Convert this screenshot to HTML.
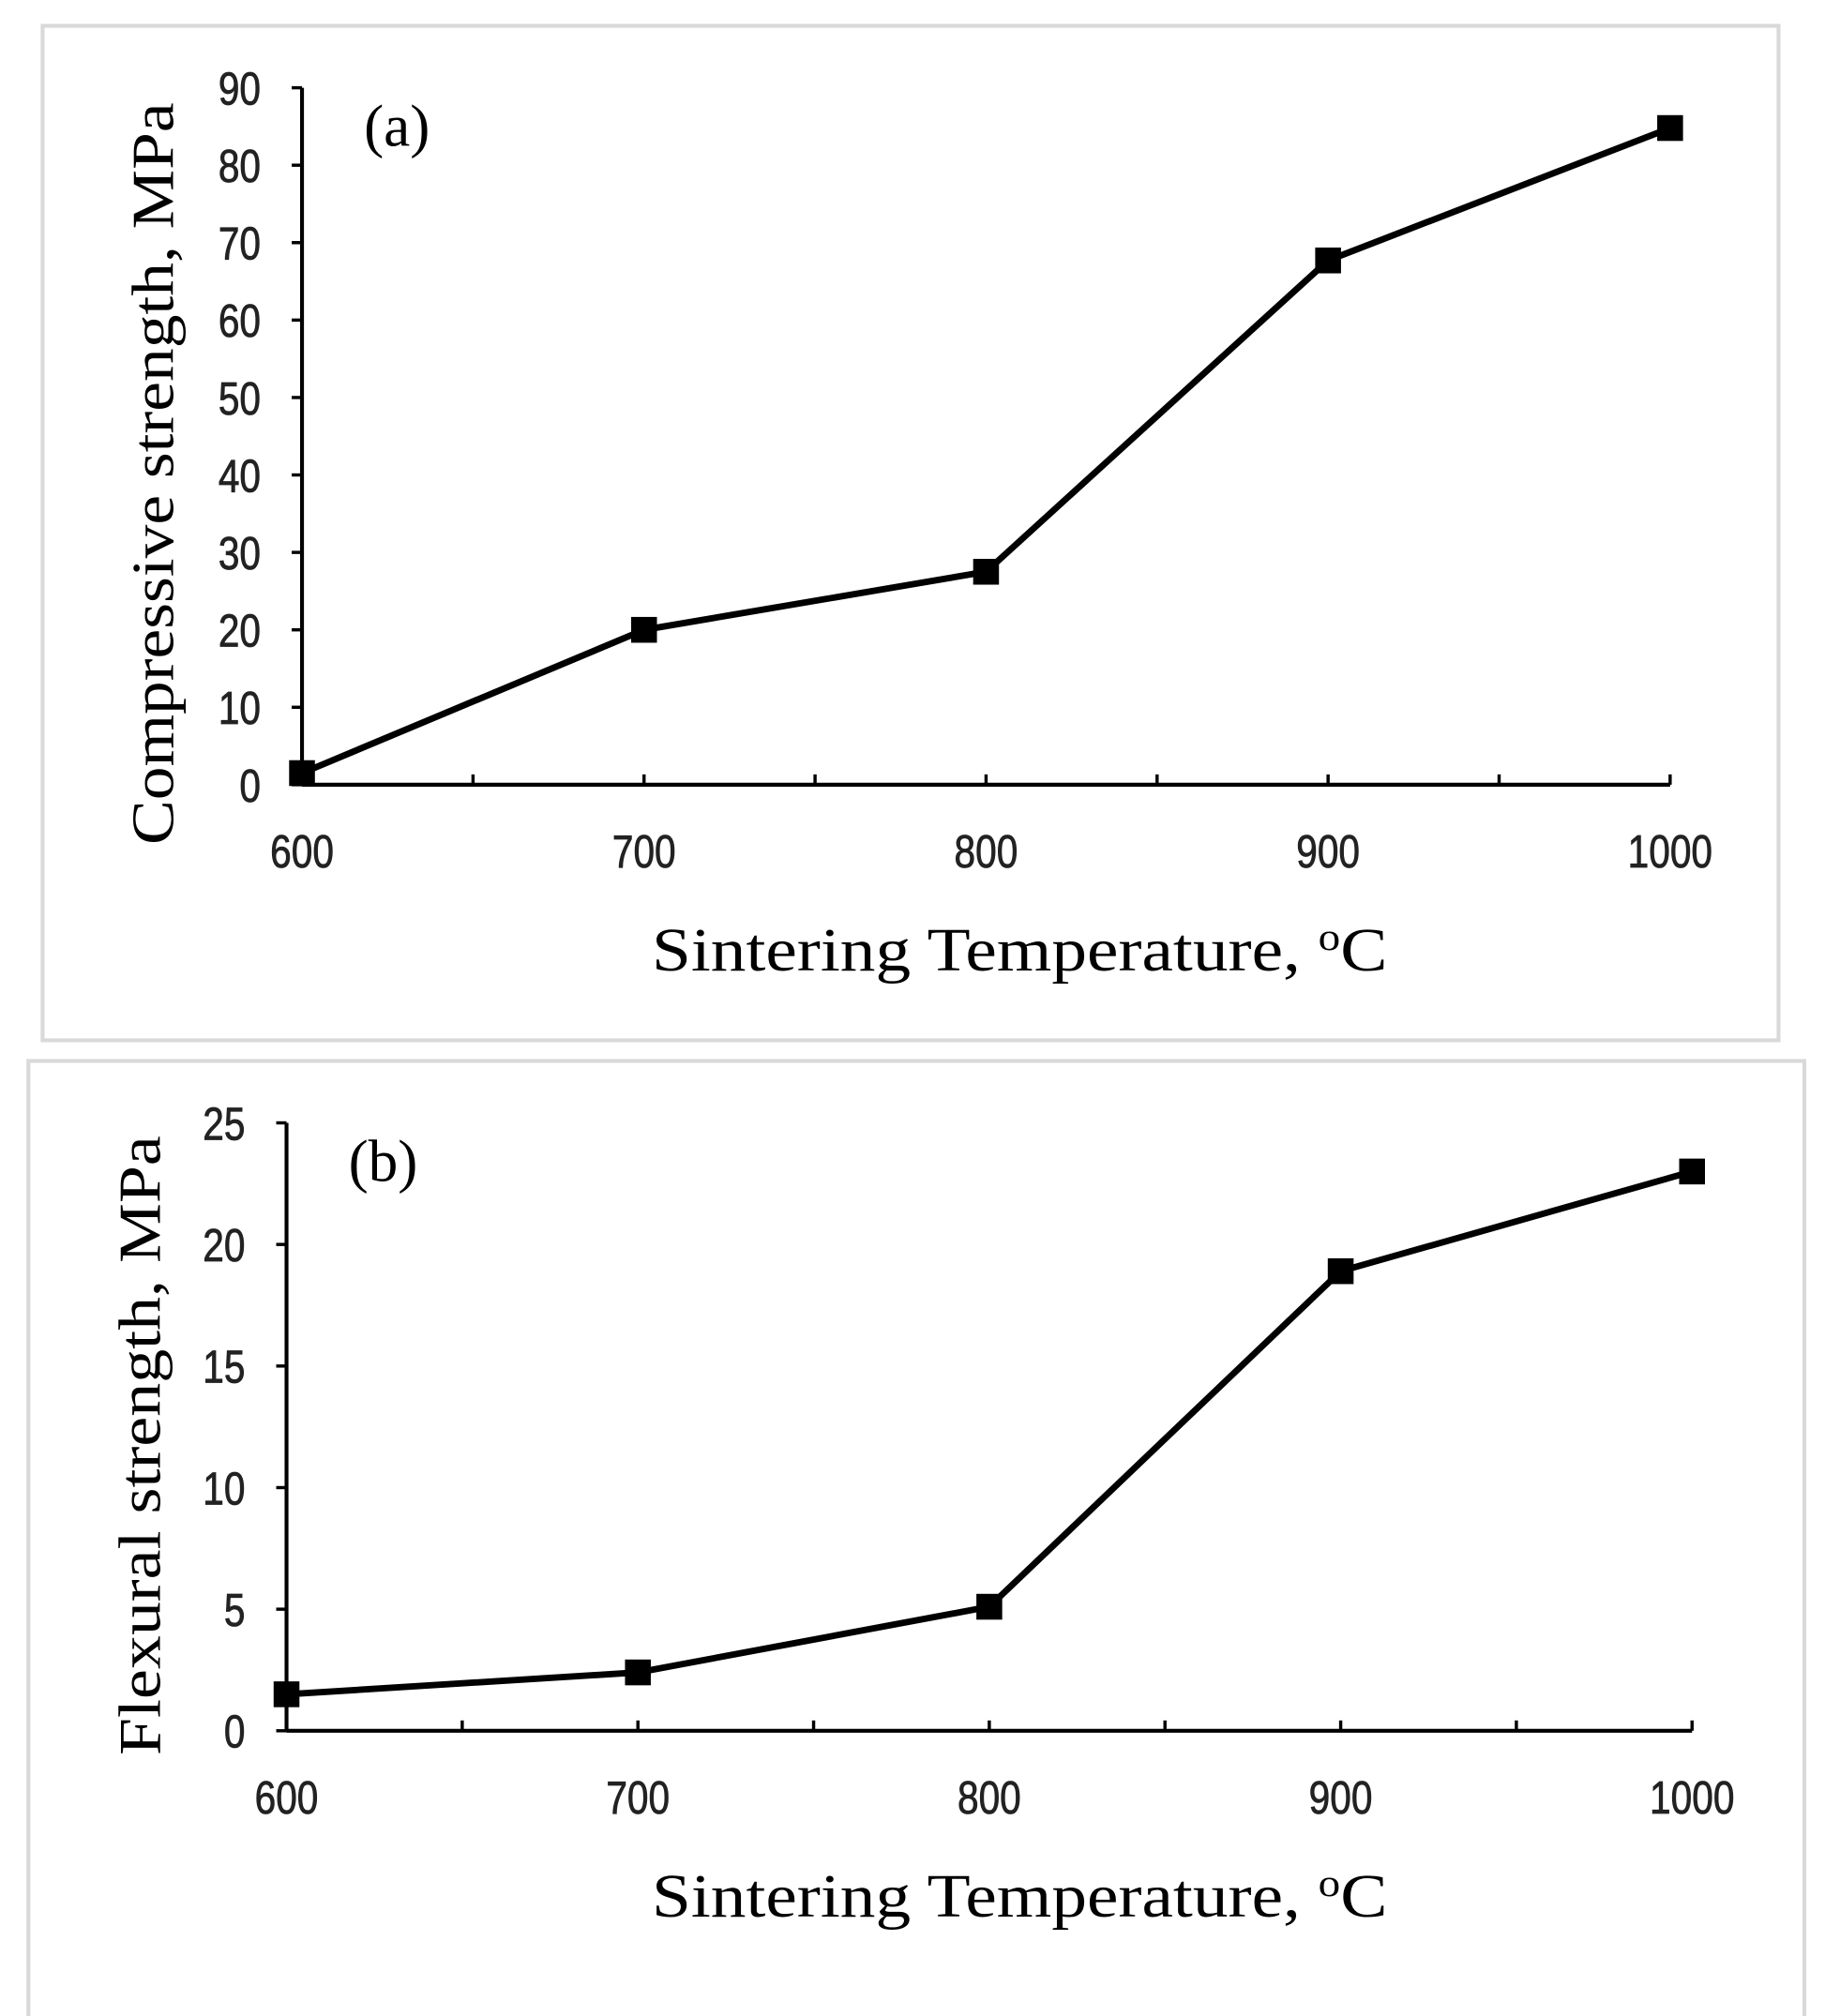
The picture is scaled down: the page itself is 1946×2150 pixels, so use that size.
<!DOCTYPE html>
<html><head><meta charset="utf-8"><style>
html,body{margin:0;padding:0;background:#fff;}
svg{display:block;}
</style></head><body>
<svg id="fig" width="1946" height="2150" viewBox="0 0 1414 1562" preserveAspectRatio="none" xmlns="http://www.w3.org/2000/svg">
<rect x="33" y="20" width="1345" height="786" fill="#fff" stroke="#d9d9d9" stroke-width="3"/>
<rect x="22" y="822" width="1376" height="745" fill="#fff" stroke="#d9d9d9" stroke-width="3"/>
<g id="ga"></g>
<g id="gb"></g>
</svg>
<script>
const categories = [600, 700, 800, 900, 1000];
const compressive = [1.5, 20, 27.5, 67.7, 84.8];
const flexural = [1.5, 2.4, 5.1, 18.9, 23.0];
const yTicksA = [0, 10, 20, 30, 40, 50, 60, 70, 80, 90];
const yTicksB = [0, 5, 10, 15, 20, 25];
const xTickLabels = ["600", "700", "800", "900", "1000"];

const NS = "http://www.w3.org/2000/svg";
function mk(parent, tag, attrs, text) {
  const e = document.createElementNS(NS, tag);
  for (const k in attrs) e.setAttribute(k, attrs[k]);
  if (text !== undefined) e.textContent = text;
  parent.appendChild(e);
  return e;
}
function drawPanel(g, cfg) {
  const xS = v => cfg.x0 + (v - 600) / 400 * (cfg.x1 - cfg.x0);
  const yS = v => cfg.y0 - v / cfg.ymax * (cfg.y0 - cfg.y1);
  const yAx = mk(g, "line", {x1: cfg.x0, y1: yS(cfg.ymax), x2: cfg.x0, y2: cfg.y0, stroke: "#000", "stroke-width": 3});
  
  
  const xAx = mk(g, "line", {x1: cfg.x0, y1: cfg.y0, x2: xS(1000), y2: cfg.y0, stroke: "#000", "stroke-width": 3});
  
  
  cfg.yTicks.forEach(t => {
    const y = yS(t);
    const tk = mk(g, "line", {x1: cfg.x0 - 8, y1: y, x2: cfg.x0, y2: y, stroke: "#000", "stroke-width": 2.5});
    
    
    const lb = mk(g, "text", {x: cfg.x0 - 32, y: y + 13, "text-anchor": "end", "font-family": "Liberation Sans, sans-serif", "font-size": 36, fill: "#222", stroke: "#222", "stroke-width": 0.6, transform: `translate(${cfg.x0 - 32},0) scale(0.82,1) translate(${-(cfg.x0 - 32)},0)`}, String(t));
    
    
  });
  for (let v = 650; v <= 1000; v += 50) {
    const x = xS(v);
    const tk = mk(g, "line", {x1: x, y1: cfg.y0 - 8, x2: x, y2: cfg.y0, stroke: "#000", "stroke-width": 2.5});
    
    
  }
  categories.forEach((c, i) => {
    const x = xS(c);
    const lb = mk(g, "text", {x: x, y: cfg.xl, "text-anchor": "middle", "font-family": "Liberation Sans, sans-serif", "font-size": 36, fill: "#222", stroke: "#222", "stroke-width": 0.6, transform: `translate(${x},0) scale(0.82,1) translate(${-x},0)`}, xTickLabels[i]);
    
    
  });
  const pts = categories.map((c, i) => xS(c) + "," + yS(cfg.vals[i])).join(" ");
  const pl = mk(g, "polyline", {points: pts, fill: "none", stroke: "#000", "stroke-width": 5, "stroke-linejoin": "round"});
  
  
  categories.forEach((c, i) => {
    const m = mk(g, "rect", {x: xS(c) - 10, y: yS(cfg.vals[i]) - 10, width: 20, height: 20, fill: "#000"});
    
    
  });
  const pa = mk(g, "text", {x: cfg.x0 + 48, y: cfg.y1 + 45, "font-family": "Liberation Serif, serif", "font-size": 46}, cfg.letter);
  
  
  const xt = mk(g, "text", {x: 505, y: cfg.xt, "font-family": "Liberation Serif, serif", "font-size": 48, textLength: 570, lengthAdjust: "spacingAndGlyphs"});
  
  
  xt.appendChild(document.createTextNode("Sintering Temperature, "));
  mk(xt, "tspan", {dy: -16, "font-size": 30}, "o");
  mk(xt, "tspan", {dy: 16}, "C");
  const yt = mk(g, "text", {x: 0, y: 0, "text-anchor": "middle", "font-family": "Liberation Serif, serif", "font-size": 46, textLength: cfg.ytLen, lengthAdjust: "spacingAndGlyphs", transform: `translate(${cfg.ytx},${cfg.yty}) rotate(-90)`}, cfg.ytitle);
  
  
}
drawPanel(document.getElementById("ga"), {x0: 234, x1: 1294, y0: 608, y1: 68, ymax: 90, yTicks: yTicksA, vals: compressive, xl: 672, xt: 752, letter: "(a)", ytitle: "Compressive strength, MPa", ytx: 134, yty: 367, ytLen: 575});
drawPanel(document.getElementById("gb"), {x0: 222, x1: 1311, y0: 1341, y1: 870, ymax: 25, yTicks: yTicksB, vals: flexural, xl: 1405, xt: 1485, letter: "(b)", ytitle: "Flexural strength, MPa", ytx: 124, yty: 1120, ytLen: 480});
</script>
</body></html>
